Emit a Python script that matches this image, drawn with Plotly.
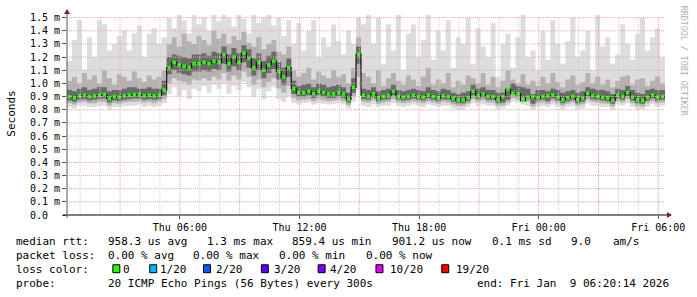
import plotly.graph_objects as go
from datetime import datetime, timedelta

# ---------------- data (values in ms, 15-minute steps) ----------------
start = datetime(2026, 1, 8, 0, 20, 14)
end = datetime(2026, 1, 9, 6, 20, 14)
step = timedelta(minutes=15)

median = [
    0.90, 0.89, 0.905, 0.91, 0.90, 0.905, 0.91, 0.915, 0.885, 0.90, 0.895, 0.905, 0.91, 0.915, 0.915, 0.905, 0.91, 0.905, 0.91, 0.95,
    1.12, 1.16, 1.14, 1.13, 1.12, 1.15, 1.15, 1.16, 1.15, 1.17, 1.16, 1.22, 1.15, 1.20, 1.16, 1.23, 1.19, 1.12, 1.16, 1.10,
    1.14, 1.17, 1.09, 1.05, 1.12, 0.96, 0.93, 0.93, 0.94, 0.92, 0.94, 0.93, 0.92, 0.92, 0.93, 0.92, 0.88, 0.97, 1.22, 0.91,
    0.90, 0.92, 0.89, 0.90, 0.905, 0.94, 0.90, 0.895, 0.90, 0.91, 0.90, 0.895, 0.91, 0.90, 0.89, 0.905, 0.90, 0.885, 0.875, 0.875,
    0.89, 0.94, 0.905, 0.92, 0.90, 0.90, 0.875, 0.90, 0.955, 0.925, 0.92, 0.87, 0.895, 0.90, 0.89, 0.90, 0.905, 0.91, 0.895, 0.875,
    0.89, 0.90, 0.875, 0.885, 0.925, 0.905, 0.90, 0.895, 0.89, 0.87, 0.91, 0.90, 0.93, 0.895, 0.875, 0.87, 0.895, 0.91, 0.895, 0.90,
]
smoke_max = [
    1.17, 1.33, 1.48, 1.10, 1.35, 1.20, 1.48, 1.45, 1.25, 1.30, 1.36, 1.40, 1.25, 1.38, 1.44, 1.20, 1.38, 1.42, 1.30, 1.35,
    1.50, 1.42, 1.52, 1.48, 1.38, 1.52, 1.45, 1.50, 1.40, 1.52, 1.47, 1.52, 1.50, 1.43, 1.52, 1.49, 1.38, 1.52, 1.46, 1.50,
    1.52, 1.44, 1.50, 1.36, 1.48, 1.30, 1.46, 1.25, 1.40, 1.48, 1.20, 1.35, 1.28, 1.45, 1.32, 1.22, 1.40, 1.30, 1.50, 1.45,
    1.52, 1.30, 1.50, 1.15, 1.45, 1.25, 1.52, 1.10, 1.38, 1.45, 1.20, 1.33, 1.52, 1.18, 1.40, 1.25, 1.48, 1.12, 1.35, 1.30,
    1.50, 1.15, 1.42, 1.28, 1.20, 1.46, 1.05, 1.30, 1.38, 1.12, 1.35, 1.52, 1.20, 1.25, 1.10, 1.40, 1.18, 1.48, 1.30, 1.15,
    1.32, 1.50, 1.20, 1.25, 1.40, 1.10, 1.52, 1.28, 1.35, 1.15, 1.22, 1.45, 1.30, 1.18, 1.38, 1.50, 1.25, 1.35, 1.42, 1.20,
]
smoke_p80 = [
    1.02, 1.05, 1.00, 1.08, 1.03, 1.06, 1.00, 1.10, 1.04, 0.99, 1.07, 1.05, 1.02, 1.09, 1.04, 1.01, 1.06, 1.03, 1.05, 1.10,
    1.30, 1.35, 1.28, 1.38, 1.32, 1.30, 1.36, 1.33, 1.29, 1.40, 1.34, 1.38, 1.30, 1.36, 1.33, 1.39, 1.31, 1.28, 1.35, 1.26,
    1.30, 1.33, 1.24, 1.22, 1.28, 1.10, 1.05, 1.08, 1.12, 1.03, 1.09, 1.06, 1.04, 1.10, 1.05, 1.07, 1.00, 1.12, 1.35, 1.08,
    1.05, 1.00, 1.10, 0.98, 1.04, 1.08, 1.02, 0.99, 1.06, 1.03, 0.98, 1.05, 1.12, 0.99, 1.03, 1.00, 1.08, 0.97, 1.02, 0.99,
    1.06, 1.04, 1.00, 1.08, 0.99, 1.05, 0.97, 1.02, 1.10, 1.03, 1.00, 1.07, 0.99, 1.02, 0.98, 1.05, 1.00, 1.08, 1.01, 0.97,
    1.03, 1.06, 0.99, 1.01, 1.08, 1.00, 1.05, 0.99, 1.03, 0.97, 1.02, 1.05, 1.06, 0.99, 1.03, 1.04, 0.98, 1.02, 1.05, 1.00,
]
smoke_p65 = [
    0.95, 0.94, 0.96, 0.97, 0.95, 0.96, 0.97, 0.97, 0.94, 0.95, 0.95, 0.96, 0.97, 0.97, 0.96, 0.96, 0.97, 0.96, 0.96, 1.02,
    1.20, 1.22, 1.21, 1.20, 1.19, 1.22, 1.22, 1.23, 1.21, 1.24, 1.23, 1.28, 1.22, 1.27, 1.23, 1.29, 1.26, 1.19, 1.23, 1.17,
    1.21, 1.24, 1.16, 1.12, 1.19, 1.02, 0.98, 0.99, 1.00, 0.97, 1.00, 0.99, 0.97, 0.98, 0.99, 0.97, 0.93, 1.04, 1.28, 0.96,
    0.95, 0.97, 0.94, 0.95, 0.96, 0.99, 0.95, 0.94, 0.95, 0.96, 0.95, 0.94, 0.97, 0.95, 0.94, 0.96, 0.95, 0.93, 0.92, 0.93,
    0.94, 0.99, 0.96, 0.97, 0.95, 0.95, 0.93, 0.93, 0.95, 1.00, 0.98, 0.97, 0.96, 0.92, 0.95, 0.95, 0.94, 0.96, 0.95, 0.93,
    0.94, 0.95, 0.93, 0.94, 0.97, 0.96, 0.95, 0.95, 0.94, 0.92, 0.96, 0.95, 0.98, 0.95, 0.93, 0.92, 0.95, 0.96, 0.95, 0.95,
]
smoke_p35 = [
    0.87, 0.86, 0.875, 0.88, 0.87, 0.875, 0.88, 0.885, 0.855, 0.87, 0.865, 0.875, 0.88, 0.885, 0.885, 0.875, 0.88, 0.875, 0.88, 0.91,
    1.07, 1.10, 1.08, 1.07, 1.06, 1.09, 1.09, 1.10, 1.09, 1.11, 1.10, 1.15, 1.09, 1.13, 1.10, 1.16, 1.12, 1.06, 1.10, 1.04,
    1.08, 1.11, 1.03, 0.99, 1.05, 0.92, 0.90, 0.90, 0.91, 0.89, 0.91, 0.90, 0.89, 0.89, 0.90, 0.89, 0.855, 0.93, 1.15, 0.88,
    0.875, 0.895, 0.865, 0.875, 0.88, 0.91, 0.875, 0.87, 0.875, 0.885, 0.875, 0.87, 0.885, 0.875, 0.865, 0.88, 0.875, 0.86, 0.85, 0.85,
    0.865, 0.91, 0.88, 0.895, 0.875, 0.875, 0.85, 0.855, 0.875, 0.925, 0.90, 0.895, 0.88, 0.845, 0.87, 0.875, 0.865, 0.885, 0.87, 0.85,
    0.865, 0.875, 0.85, 0.86, 0.90, 0.88, 0.875, 0.87, 0.865, 0.845, 0.885, 0.875, 0.905, 0.87, 0.85, 0.845, 0.87, 0.885, 0.87, 0.875,
]
smoke_p20 = [
    0.85, 0.84, 0.855, 0.86, 0.85, 0.85, 0.86, 0.86, 0.83, 0.85, 0.845, 0.855, 0.86, 0.86, 0.865, 0.855, 0.86, 0.85, 0.86, 0.88,
    1.00, 1.04, 1.02, 1.01, 0.99, 1.03, 1.02, 1.04, 1.02, 1.05, 1.03, 1.08, 1.02, 1.06, 1.03, 1.09, 1.05, 0.99, 1.03, 0.97,
    1.01, 1.04, 0.96, 0.93, 0.98, 0.89, 0.87, 0.875, 0.88, 0.865, 0.88, 0.87, 0.865, 0.87, 0.875, 0.865, 0.835, 0.90, 1.05, 0.86,
    0.855, 0.87, 0.845, 0.855, 0.86, 0.88, 0.855, 0.85, 0.855, 0.865, 0.855, 0.85, 0.865, 0.855, 0.845, 0.86, 0.855, 0.84, 0.83, 0.83,
    0.845, 0.88, 0.86, 0.87, 0.855, 0.855, 0.83, 0.835, 0.855, 0.89, 0.875, 0.87, 0.86, 0.825, 0.85, 0.855, 0.845, 0.865, 0.85, 0.83,
    0.845, 0.855, 0.83, 0.84, 0.875, 0.86, 0.855, 0.85, 0.845, 0.825, 0.865, 0.855, 0.88, 0.85, 0.83, 0.825, 0.85, 0.865, 0.85, 0.855,
]
smoke_min = [
    0.82, 0.81, 0.83, 0.83, 0.82, 0.82, 0.83, 0.83, 0.80, 0.82, 0.82, 0.83, 0.83, 0.83, 0.84, 0.82, 0.83, 0.82, 0.83, 0.85,
    0.92, 0.97, 0.90, 0.95, 0.88, 0.96, 0.94, 0.98, 0.93, 0.99, 0.96, 1.00, 0.92, 0.98, 0.95, 1.01, 0.97, 0.90, 0.96, 0.88,
    0.94, 0.97, 0.88, 0.86, 0.90, 0.85, 0.84, 0.85, 0.855, 0.84, 0.85, 0.845, 0.84, 0.845, 0.85, 0.84, 0.81, 0.86, 0.95, 0.83,
    0.82, 0.84, 0.82, 0.83, 0.83, 0.85, 0.83, 0.82, 0.83, 0.84, 0.83, 0.82, 0.84, 0.83, 0.82, 0.83, 0.83, 0.81, 0.80, 0.80,
    0.82, 0.85, 0.83, 0.84, 0.83, 0.83, 0.80, 0.81, 0.83, 0.86, 0.85, 0.84, 0.83, 0.80, 0.82, 0.83, 0.82, 0.84, 0.82, 0.80,
    0.82, 0.83, 0.80, 0.81, 0.85, 0.83, 0.83, 0.82, 0.82, 0.80, 0.84, 0.83, 0.85, 0.82, 0.80, 0.80, 0.82, 0.84, 0.82, 0.83,
]

y_ticks = [i / 10 for i in range(16)]
y_ticktext = ["0.0\u00a0\u00a0"] + [f"{v:.1f} m" for v in y_ticks[1:]]
x_ticks = ["2026-01-08 06:00", "2026-01-08 12:00", "2026-01-08 18:00", "2026-01-09 00:00", "2026-01-09 06:00"]
x_ticktext = ["Thu 06:00", "Thu 12:00", "Thu 18:00", "Fri 00:00", "Fri 06:00"]

loss_labels = ["0", "1/20", "2/20", "3/20", "4/20", "10/20", "19/20"]
loss_colors = ["#26ff00", "#00b8ff", "#0059ff", "#5e00ff", "#7e00ff", "#dd00ff", "#ff0000"]

rtt_items = ["958.3 us avg", "1.3 ms max", "859.4 us min", "901.2 us now", "0.1 ms sd", "9.0", "am/s"]
loss_items = ["0.00 % avg", "0.00 % max", "0.00 % min", "0.00 % now"]
probe_text = "20 ICMP Echo Pings (56 Bytes) every 300s"
end_text = "end: Fri Jan  9 06:20:14 2026"

# ---------------- layout geometry (pixels) ----------------
W, H = 697, 297
L, R, T, B = 67, 667, 14, 215
Y_MAX = 1.52


def px(x):
    return (x - L) / (R - L)


def py(y):
    return (B - y) / (B - T)


def nb(s):
    return s.replace(" ", "\u00a0")


n = len(median)
xs = [start + i * step for i in range(n + 1)]
xc = [start + i * step + step / 2 for i in range(n)]


def ext(a):
    return list(a) + [a[-1]]


fig = go.Figure()
bands = [
    (smoke_min, smoke_max, "#dddddd"),
    (smoke_p20, smoke_p80, "#b2b2b2"),
    (smoke_p35, smoke_p65, "#6a6a6a"),
]
for lo, hi, col in bands:
    fig.add_trace(go.Scatter(x=xs, y=ext(lo), mode="lines", line=dict(width=0, shape="hv"),
                             hoverinfo="skip", showlegend=False))
    fig.add_trace(go.Scatter(x=xs, y=ext(hi), mode="lines", line=dict(width=0, shape="hv"),
                             fill="tonexty", fillcolor=col, hoverinfo="skip", showlegend=False))

fig.add_trace(go.Scatter(x=xs, y=ext(median), mode="lines", line=dict(width=1.2, color="#151515", shape="hv"),
                         hoverinfo="skip", showlegend=False))
fig.add_trace(go.Scatter(x=xc, y=median, mode="markers",
                         marker=dict(symbol="square", size=3.5, color=loss_colors[0], line=dict(width=0)),
                         hoverinfo="skip", showlegend=False))

shapes = []
# horizontal grid
for v in y_ticks[1:]:
    shapes.append(dict(type="line", xref="x", yref="y", x0=start, x1=end, y0=v, y1=v, layer="above",
                       line=dict(color="#e2a9a9", width=1, dash="1px,1px")))
# vertical grid (hourly minor, 3-hourly major)
t = datetime(2026, 1, 8, 1, 0, 0)
while t < end:
    major = t.hour % 3 == 0
    shapes.append(dict(type="line", xref="x", yref="paper", x0=t, x1=t, y0=0, y1=py(16), layer="above",
                       line=dict(color="#e2a9a9" if major else "#cfcfcf", width=1, dash="1px,1px")))
    t += timedelta(hours=1)
# axes lines
shapes.append(dict(type="line", xref="paper", yref="paper", x0=px(63), x1=px(670), y0=0, y1=0, layer="above",
                   line=dict(color="#000000", width=1)))
shapes.append(dict(type="line", xref="paper", yref="paper", x0=0, x1=0, y0=py(218), y1=py(11), layer="above",
                   line=dict(color="#555555", width=1)))
# arrows
shapes.append(dict(type="path", xref="paper", yref="paper", layer="above",
                   path=f"M {px(64)} {py(13)} L {px(70)} {py(13)} L {px(67)} {py(8)} Z",
                   fillcolor="#8b1a1a", line=dict(width=0)))
shapes.append(dict(type="path", xref="paper", yref="paper", layer="above",
                   path=f"M {px(669)} {py(212)} L {px(669)} {py(218)} L {px(674)} {py(215)} Z",
                   fillcolor="#8b1a1a", line=dict(width=0)))

MONO = "DejaVu Sans Mono"
annotations = []


def txt(x, y, s, size=11, color="#000000"):
    annotations.append(dict(x=px(x - 0.8), y=py(y), xref="paper", yref="paper", text=nb(s), showarrow=False,
                            xanchor="left", yanchor="middle", borderpad=0,
                            font=dict(family=MONO, size=size, color=color)))


Y1, Y2, Y3, Y4 = 241.5, 255.5, 269.5, 283.5
txt(16, Y1, "median rtt:")
for xpos, s in zip([107.7, 207, 293, 393, 493, 572, 615], rtt_items):
    txt(xpos, Y1, s)
txt(16, Y2, "packet loss:")
for xpos, s in zip([107.7, 193.3, 279.3, 367], loss_items):
    txt(xpos, Y2, s)
txt(16, Y3, "loss color:")
txt(16, Y4, "probe:")
txt(107.7, Y4, probe_text)
txt(478, Y4, end_text)

box_x = [113, 150, 204, 262, 319, 377, 443]
lab_x = [123, 160, 216, 274, 331, 391, 457]
for bx, lx, lab, col in zip(box_x, lab_x, loss_labels, loss_colors):
    shapes.append(dict(type="rect", xref="paper", yref="paper", x0=px(bx), x1=px(bx + 7), y0=py(273), y1=py(265),
                       fillcolor=col, line=dict(color="#000000", width=1)))
    txt(lx, Y3, lab)

# axis title and credit
annotations.append(dict(x=px(11), y=py(113), xref="paper", yref="paper", text="Seconds", showarrow=False,
                        textangle=-90, xanchor="center", yanchor="middle",
                        font=dict(family=MONO, size=11, color="#000000")))
annotations.append(dict(x=px(686), y=py(60), xref="paper", yref="paper", text=nb("RRDTOOL / TOBI OETIKER"),
                        showarrow=False, textangle=90, xanchor="center", yanchor="middle",
                        font=dict(family=MONO, size=8.3, color="#b0b0b0")))

fig.update_layout(
    width=W, height=H, autosize=False,
    margin=dict(l=L, r=W - R, t=T, b=H - B, pad=0),
    paper_bgcolor="#ffffff", plot_bgcolor="#ffffff",
    showlegend=False,
    shapes=shapes, annotations=annotations,
    xaxis=dict(type="date", range=[start, end], tickmode="array", tickvals=x_ticks, ticktext=x_ticktext,
               showgrid=False, zeroline=False, showline=False, ticks="outside", ticklen=3, tickcolor="#555555",
               tickfont=dict(family=MONO, size=10, color="#000000"), fixedrange=True),
    yaxis=dict(range=[0, Y_MAX], tickmode="array", tickvals=y_ticks, ticktext=y_ticktext,
               showgrid=False, zeroline=False, showline=False, ticks="outside", ticklen=4, tickcolor="#555555",
               tickfont=dict(family=MONO, size=10, color="#000000"), fixedrange=True),
)

fig.write_html("out.html")
